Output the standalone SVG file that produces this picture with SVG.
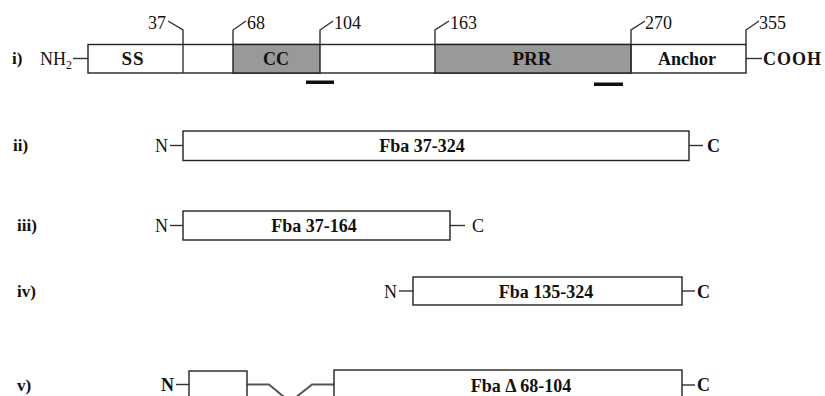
<svg xmlns="http://www.w3.org/2000/svg" width="825" height="396" viewBox="0 0 825 396">
<style>
  text { font-family: "Liberation Serif", "Times New Roman", serif; fill: #111; }
  .lbl { font-size: 18px; font-weight: bold; text-anchor: middle; }
  .num { font-size: 18px; }
  .row { font-size: 17px; font-weight: bold; }
  .term { font-size: 18px; }
  .box { fill: #ffffff; stroke: #222; stroke-width: 1.4; }
  .dom { fill: #999999; stroke: #222; stroke-width: 1.4; }
  .ln { fill: none; stroke: #333; stroke-width: 1.4; }
  .del { fill: none; stroke: #555; stroke-width: 2; }
  .bar { fill: #111; }
</style>
<rect width="825" height="396" fill="#ffffff"/>

<g id="row-labels">
  <text class="row" x="12" y="64">i)</text>
  <text class="row" x="13" y="151">ii)</text>
  <text class="row" x="17" y="231">iii)</text>
  <text class="row" x="17" y="297">iv)</text>
  <text class="row" x="17" y="391">v)</text>
</g>

<g id="connectors">
  <path class="ln" d="M168,21 L183,30 L183,44.5"/>
  <path class="ln" d="M233,44.5 L233,30 L246,21"/>
  <path class="ln" d="M320,44.5 L320,30 L333,21"/>
  <path class="ln" d="M435,44.5 L435,30 L449,21"/>
  <path class="ln" d="M631,44.5 L631,30 L645,21"/>
  <path class="ln" d="M746,44.5 L746,30 L759,21"/>
  <line class="ln" x1="73" y1="58.5" x2="88" y2="58.5"/>
  <line class="ln" x1="746" y1="58.5" x2="762" y2="58.5"/>
  <line class="ln" x1="170" y1="145.5" x2="183" y2="145.5"/>
  <line class="ln" x1="689" y1="145.5" x2="703" y2="145.5"/>
  <line class="ln" x1="170" y1="225.5" x2="183" y2="225.5"/>
  <line class="ln" x1="450" y1="225.5" x2="465" y2="225.5"/>
  <line class="ln" x1="399" y1="291" x2="413" y2="291"/>
  <line class="ln" x1="682" y1="291" x2="695" y2="291"/>
  <line class="ln" x1="176" y1="384.5" x2="189" y2="384.5"/>
  <line class="ln" x1="682" y1="385" x2="695" y2="385"/>
  <path class="del" d="M247,384.5 L269,384.5 L290,402 L312,384.5 L334,384.5"/>
</g>

<g id="full-length">
  <rect class="box" x="88" y="44.5" width="658" height="28.5"/>
  <rect class="dom" x="233" y="44.5" width="87" height="28.5"/>
  <rect class="dom" x="435" y="44.5" width="196" height="28.5"/>
  <line class="ln" x1="183" y1="44.5" x2="183" y2="73"/>
  <line class="ln" x1="631" y1="44.5" x2="631" y2="73"/>
  <text class="lbl" x="133" y="65" style="font-size:19px" letter-spacing="1">SS</text>
  <text class="lbl" x="276" y="65" fill="#2a2a2a">CC</text>
  <text class="lbl" x="532" y="65" fill="#2a2a2a" style="font-size:19px">PRR</text>
  <text class="lbl" x="687" y="65">Anchor</text>
  <text class="term" x="40" y="65">NH<tspan font-size="12" dy="4">2</tspan></text>
  <text class="term" x="763" y="65" font-weight="bold" letter-spacing="1">COOH</text>
  <text class="num" x="148" y="29">37</text>
  <text class="num" x="247" y="29">68</text>
  <text class="num" x="334" y="29">104</text>
  <text class="num" x="450" y="29">163</text>
  <text class="num" x="645" y="29">270</text>
  <text class="num" x="759" y="29">355</text>
</g>

<g id="markers">
  <rect class="bar" x="306" y="80.5" width="28" height="3.5"/>
  <rect class="bar" x="594" y="82.5" width="29" height="3.5"/>
</g>

<g id="fba-37-324">
  <rect class="box" x="183" y="131" width="506" height="29.5"/>
  <text class="lbl" x="422" y="152">Fba 37-324</text>
  <text class="term" x="155" y="152">N</text>
  <text class="term" x="707" y="152" font-weight="bold">C</text>
</g>

<g id="fba-37-164">
  <rect class="box" x="183" y="211" width="267" height="29"/>
  <text class="lbl" x="314" y="232">Fba 37-164</text>
  <text class="term" x="155" y="232">N</text>
  <text class="term" x="472" y="232">C</text>
</g>

<g id="fba-135-324">
  <rect class="box" x="413" y="277" width="269" height="28"/>
  <text class="lbl" x="546" y="297.5">Fba 135-324</text>
  <text class="term" x="384" y="297.5">N</text>
  <text class="term" x="697" y="297.5" font-weight="bold">C</text>
</g>

<g id="fba-delta-68-104">
  <rect class="box" x="189" y="371" width="58" height="40"/>
  <rect class="box" x="334" y="370" width="348" height="40"/>
  <text class="lbl" x="521" y="392">Fba Δ 68-104</text>
  <text class="term" x="161" y="391" font-weight="bold">N</text>
  <text class="term" x="697" y="391" font-weight="bold">C</text>
</g>
</svg>
